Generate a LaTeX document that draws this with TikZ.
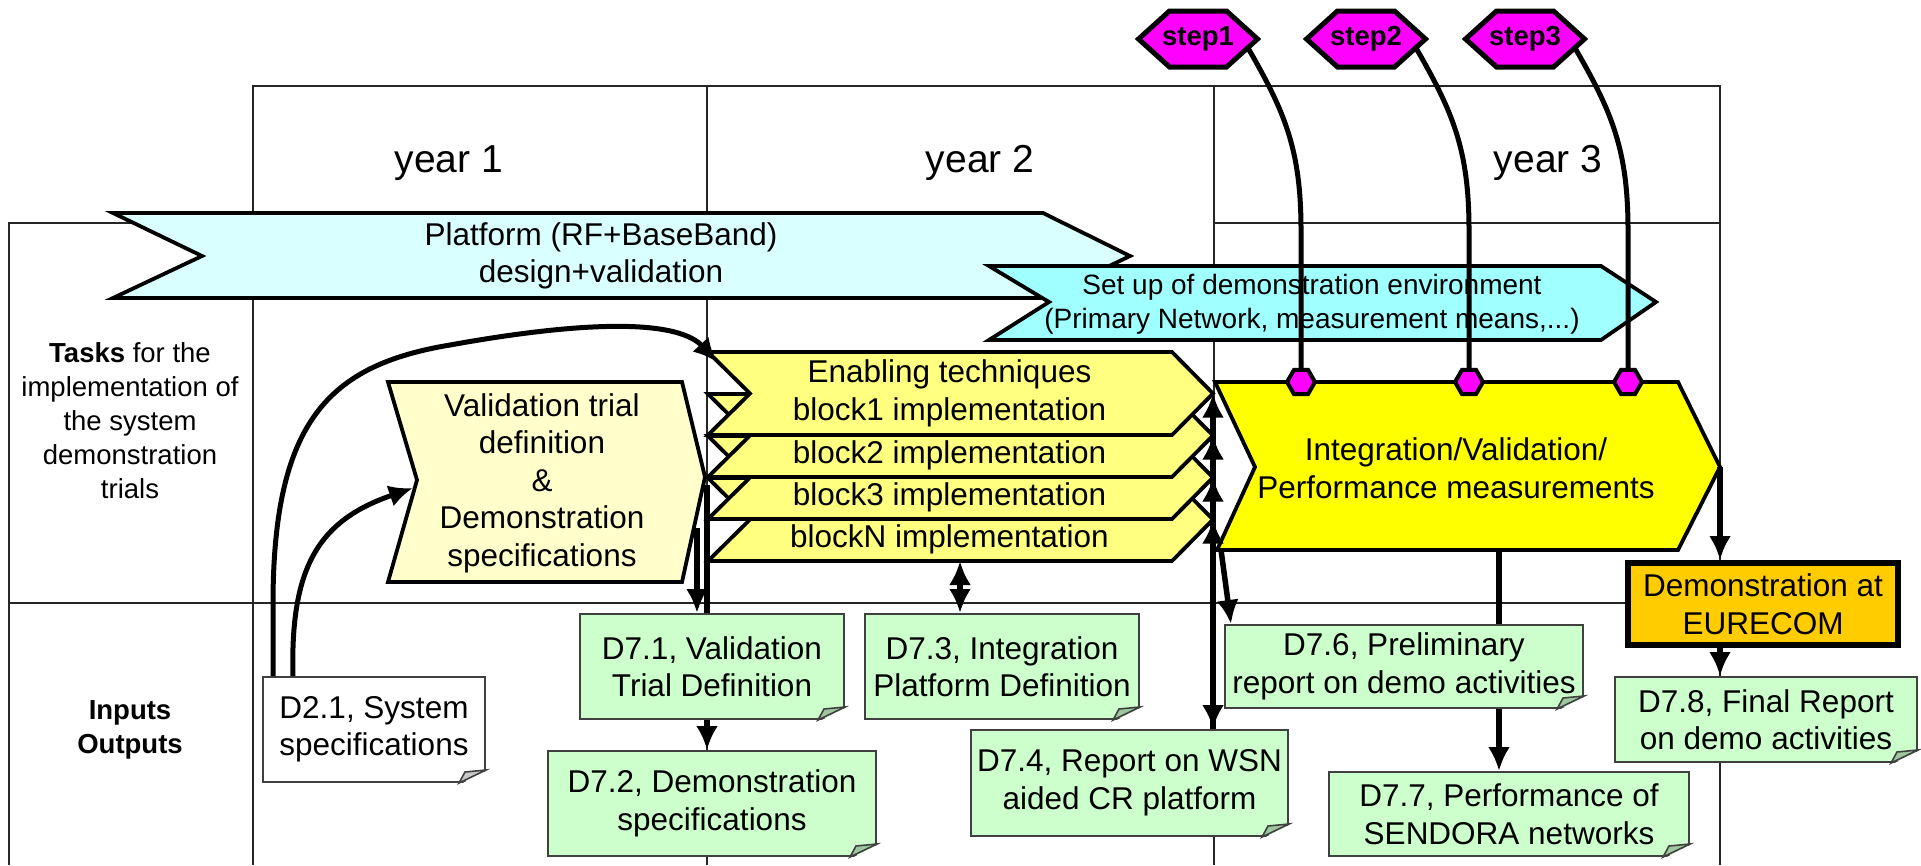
\documentclass[tikz,border=0pt]{standalone}
\usepackage{fontspec}
\setmainfont{Liberation Sans}
\usetikzlibrary{arrows.meta,shapes.geometric}

% Colours of the work plan
\definecolor{platcyan}{RGB}{217,255,255}
\definecolor{setupcyan}{RGB}{160,255,255}
\definecolor{blockyellow}{RGB}{255,255,128}
\definecolor{validyellow}{RGB}{255,255,204}
\definecolor{intyellow}{RGB}{255,255,0}
\definecolor{demoorange}{RGB}{255,204,0}
\definecolor{notegreen}{RGB}{204,255,204}
\definecolor{stepmagenta}{RGB}{255,0,255}

\tikzset{
  gridline/.style={line width=1.6pt, draw=black!85},
  bar/.style={line width=3.8pt, draw=black},
  bodytext/.style={font=\fontsize{31.5}{37.5}\selectfont, align=center, inner sep=0pt},
  setuptext/.style={font=\fontsize{28}{34}\selectfont, align=center, inner sep=0pt},
  labeltext/.style={font=\fontsize{27.5}{34}\selectfont, align=center, inner sep=0pt},
  yeartext/.style={font=\fontsize{39}{45}\selectfont, inner sep=0pt},
  steptext/.style={font=\bfseries\fontsize{27.5}{32}\selectfont, inner sep=0pt},
  note/.style={bodytext, draw=black!75, line width=2pt, fill=notegreen, minimum height=105pt},
  demo/.style={bodytext, draw=black, line width=6pt, fill=demoorange},
  smallhex/.style={regular polygon, regular polygon sides=6, minimum size=28pt,
    inner sep=0pt, fill=stepmagenta, draw=black, line width=4pt},
  stephex/.style={fill=stepmagenta, draw=black, line width=5pt},
  stepline/.style={line width=5pt},
  arr/.style={line width=5.5pt, -{Latex[length=24pt,width=22pt]}},
  dblarr/.style={line width=5.5pt, {Latex[length=24pt,width=22pt]}-{Latex[length=24pt,width=22pt]}},
  curvearr/.style={line width=5pt, -{Latex[length=24pt,width=22pt]}},
}

\begin{document}
\begin{tikzpicture}[x=1pt, y=-1pt]

    \useasboundingbox (0,0) rectangle (1921,865);

    % Draw the table of the three years
    \draw[gridline] (253,865) -- (253,86) -- (1720,86) -- (1720,865);
    \draw[gridline] (707,86) -- (707,865);
    \draw[gridline] (1214,86) -- (1214,865);
    \draw[gridline] (9,865) -- (9,223) -- (253,223);
    \draw[gridline] (1214,223) -- (1720,223);
    \draw[gridline] (9,603) -- (1720,603);

    % Year headers and row labels
    \node[yeartext] (year1) at (449,163) {year 1};
    \node[yeartext] (year2) at (980,163) {year 2};
    \node[yeartext] (year3) at (1548,163) {year 3};
    \node[labeltext] (tasks) at (130,421) {\textbf{Tasks} for the\\implementation of\\the system\\demonstration\\trials};
    \node[labeltext] (inout) at (130,730) {\textbf{Inputs}\\\textbf{Outputs}};

    % Platform bar
    \filldraw[bar, fill=platcyan] (113,213) -- (1043,213) -- (1130,256) -- (1043,298)
        -- (113,298) -- (202,256) -- cycle;
    \node[bodytext] (plat) at (601,256) {Platform (RF+BaseBand)\\design+validation};

    % Set up bar
    \filldraw[bar, fill=setupcyan] (989,266) -- (1601,266) -- (1656,302) -- (1601,340)
        -- (989,340) -- (1049,302) -- cycle;
    \node[setuptext] (setup) at (1312,304) {Set up of demonstration environment\\(Primary Network, measurement means,...)};

    % Stack of implementation blocks, last one drawn first
    \foreach \i [evaluate=\i as \yt using 352+42*\i] in {3,2,1,0} {
        \filldraw[bar, fill=blockyellow] (708,\yt) -- (1172,\yt) -- (1213,\yt+41.5)
            -- (1172,\yt+83) -- (708,\yt+83) -- (750,\yt+41.5) -- cycle;
        \coordinate (tip\i) at (1213,\yt+41.5);
    }
    \node[bodytext] (blk0) at (949.5,393.5) {Enabling techniques\\block1 implementation};
    \node[bodytext] (blk1) at (949.5,455) {block2 implementation};
    \node[bodytext] (blk2) at (949.5,497) {block3 implementation};
    \node[bodytext] (blk3) at (949.5,539) {blockN implementation};

    % Validation trial box
    \filldraw[bar, fill=validyellow] (388,382) -- (682,382) -- (705,477) -- (682,582)
        -- (388,582) -- (417,480) -- cycle;
    \node[bodytext] (valid) at (542,483) {Validation trial\\definition\\\&\\Demonstration\\specifications};

    % Integration box
    \filldraw[bar, fill=intyellow] (1215,382) -- (1678,382) -- (1720,467) -- (1678,550)
        -- (1217,550) -- (1255,467) -- cycle;
    \node[bodytext] (integ) at (1456,468) {Integration/Validation/\\Performance measurements};

    % Points used by the connectors
    \coordinate (enabw) at (717,362);
    \coordinate (valw) at (413,488);
    \coordinate (vale) at (707,485);
    \coordinate (vald) at (697,528);
    \coordinate (blkNs) at (960,561);
    \coordinate (intsw) at (1221,550);
    \coordinate (ints) at (1499,550);
    \coordinate (inte) at (1720,467);

    % Steps with their links down to the integration box
    \foreach \k/\x in {1/1198, 2/1366, 3/1525} {
        \filldraw[stephex] (\x-59.5,39) -- (\x-28.5,11) -- (\x+28.5,11) -- (\x+59.5,39)
            -- (\x+28.5,67) -- (\x-28.5,67) -- cycle;
        \node[steptext] (step\k) at (\x,39) {step\k};
        \coordinate (s\k) at (\x+50,48);
        \node[smallhex] (sm\k) at (\x+103,382) {};
        \draw[stepline] (s\k) .. controls (\x+87,112) and (\x+103,150) .. (\x+103,230) -- (sm\k.north);
    }

    % Demonstration box
    \node[demo, minimum width=270pt, minimum height=82pt] (demo) at (1763,604) {Demonstration at\\EURECOM};

    % Deliverables behind the long arrows first
    \node[note, minimum width=328pt] (d72) at (712,803.5) {D7.2, Demonstration\\specifications};
    \draw[arr] (vale) -- (vale |- d72.north);
    \node[note, minimum width=264pt] (d71) at (712,666.5) {D7.1, Validation\\Trial Definition};
    \draw[arr] (vald) -- (vald |- d71.north);

    \node[note, minimum width=360pt, minimum height=84pt] (d77) at (1509,814) {D7.7, Performance of\\SENDORA networks};
    \draw[arr] (ints) -- (ints |- d77.north);
    \node[note, minimum width=358pt, minimum height=83pt] (d76) at (1404,666.5) {D7.6, Preliminary\\report on demo activities};

    % Remaining deliverables
    \node[note, minimum width=274pt] (d73) at (1002,666.5) {D7.3, Integration\\Platform Definition};
    \node[note, minimum width=317pt, minimum height=106pt] (d74) at (1129.5,783) {D7.4, Report on WSN\\aided CR platform};
    \node[note, minimum width=302pt, minimum height=85pt] (d78) at (1766,719.5) {D7.8, Final Report\\on demo activities};
    \node[note, fill=white, minimum width=222pt] (d21) at (374,729.5) {D2.1, System\\specifications};

    % Folded corners of the deliverables
    \foreach \n/\c in {d21/white, d71/notegreen, d72/notegreen, d73/notegreen,
                       d74/notegreen, d76/notegreen, d77/notegreen, d78/notegreen} {
        \fill[white] ([xshift=-27pt,yshift=-2pt]\n.south east) -- ([xshift=2pt,yshift=-2pt]\n.south east)
            -- ([xshift=2pt,yshift=13pt]\n.south east) -- cycle;
        \filldraw[fill=\c!78!black, draw=black!75, line width=1.6pt] ([xshift=-27pt]\n.south east)
            -- ([xshift=-21pt,yshift=11pt]\n.south east) -- ([yshift=13pt]\n.south east) -- cycle;
    }

    % Inputs from D2.1
    \draw[curvearr] ([xshift=11pt]d21.north west) -- (273,600)
        .. controls (274,420) and (330,365) .. (450,345)
        .. controls (600,318) and (680,322) .. (enabw);
    \draw[curvearr] ([xshift=31pt]d21.north west) .. controls (290,565) and (320,520) .. (valw);

    % Block outputs and integration links
    \draw[dblarr] (blkNs) -- (blkNs |- d73.north);
    \draw[dblarr] (tip0) -- (tip0 |- d74.north);
    \foreach \i in {1,2,3}
        \draw[arr] (tip0 |- d74.north) -- (tip\i);
    \draw[arr] (intsw) -- ([xshift=7pt]d76.north west);
    \draw[arr] (inte) -- (inte |- demo.north);
    \draw[arr] (inte |- demo.south) -- (inte |- d78.north);

\end{tikzpicture}
\end{document}
